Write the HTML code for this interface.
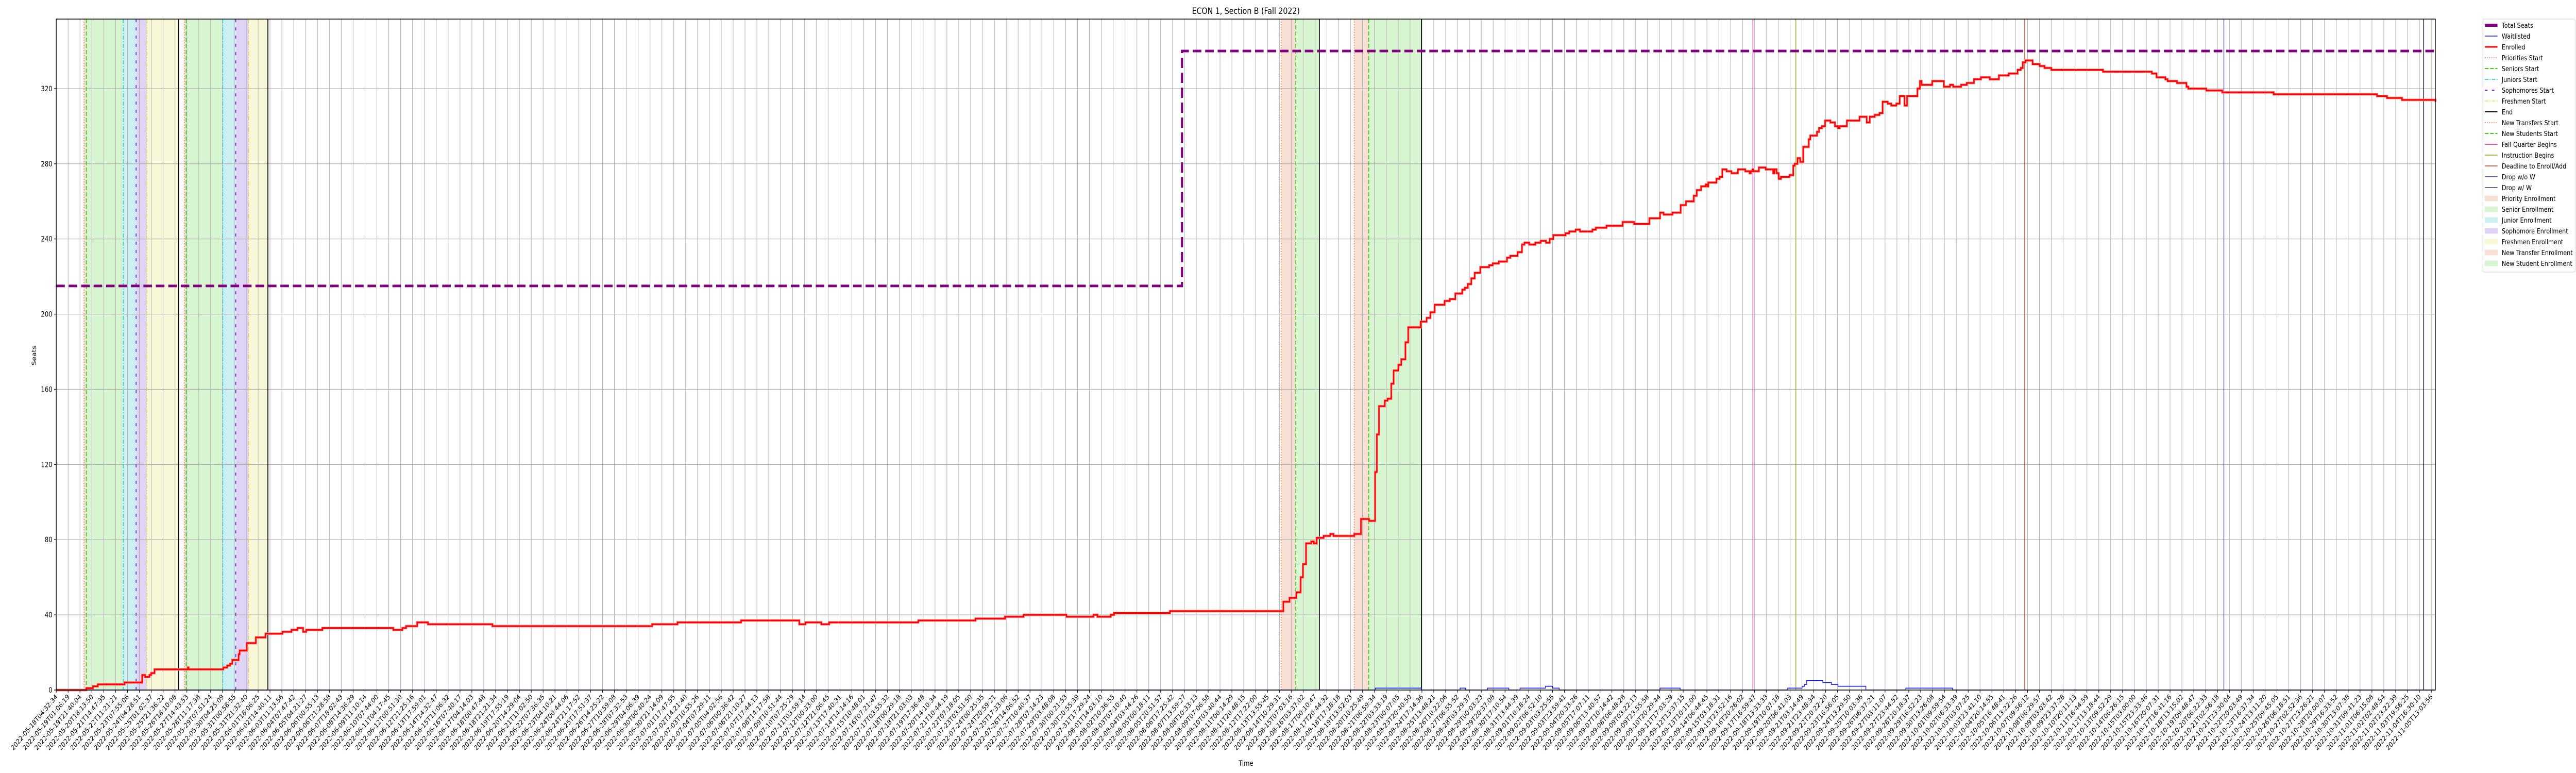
<!DOCTYPE html>
<html><head><meta charset="utf-8"><style>
html,body{margin:0;padding:0;background:#fff;overflow:hidden;width:100vw;height:100vh;}
svg{display:block;width:100vw;height:100vh;font-family:"DejaVu Sans","Liberation Sans",sans-serif;}
</style></head><body>
<svg id="chart" viewBox="0 0 6000 1500" preserveAspectRatio="none" xmlns="http://www.w3.org/2000/svg">
<rect x="0" y="0" width="6000" height="1500" fill="#fff"/>
<text x="2902" y="27" font-size="17" text-anchor="middle">ECON 1, Section B (Fall 2022)</text>
<g id="shades"></g><g id="grid"></g><g id="events"></g><g id="series"></g><g id="axes"></g><g id="legend"></g>
<text x="2902" y="1486" font-size="14" text-anchor="middle">Time</text>
<text x="0" y="0" font-size="14" text-anchor="middle" transform="translate(84,690) rotate(-90)">Seats</text>
</svg>
<script>
// ---- data (x in days since first tick) ----
const tickRange = ["2022-05-18T04:32:34", "2022-11-05T13:03:56"];
const tickCount = [201];
const yTicks = [0, 40, 80, 120, 160, 200, 240, 280, 320];
const seatsDays = [0, 81.22, 171.65];
const seatsVals = [215, 340, 340];
const enrolledDays = [0,2.0,2.17,2.65,3.0,4.93,6.2,6.41,6.72,6.85,7.09,9.49,9.55,12.01,12.05,12.33,12.54,12.7,12.89,13.16,13.23,13.75,14.4,15.1,16.32,16.97,17.4,17.81,18.03,19.2,24.32,24.97,25.24,26.04,26.82,31.47,36.18,42.99,44.82,49.41,53.49,53.61,54.05,55.2,55.76,62.2,66.32,68.45,69.79,72.88,74.84,75.12,76.08,76.32,80.35,88.37,88.53,88.98,89.47,89.58,89.78,89.95,90.17,90.54,90.6,90.73,90.94,91.44,91.5,91.92,92.15,93.65,93.79,94.13,94.72,95.03,95.15,95.28,95.43,95.85,96.05,96.32,96.49,96.83,97.04,97.34,97.54,98.44,98.63,98.87,99.14,99.45,100.17,100.54,100.94,101.44,101.63,101.84,102.09,102.34,102.74,103.38,103.64,104.08,104.67,104.91,105.43,105.56,105.75,105.93,106.27,106.71,107.1,107.48,107.75,108.0,108.9,109.16,109.62,109.93,110.83,111.08,111.85,112.37,113.01,113.84,114.18,114.94,115.07,115.71,115.97,116.61,116.87,117.2,117.58,117.76,118.14,118.36,118.67,119.01,119.12,119.19,119.78,120.0,120.2,120.51,120.86,120.98,121.33,121.86,122.17,122.26,122.38,122.45,122.84,122.91,123.34,123.87,123.96,124.12,124.27,124.43,125.05,125.16,125.32,125.42,125.63,125.82,125.94,126.04,126.44,126.55,127.03,127.18,127.39,127.62,128.0,128.1,128.33,128.55,128.67,129.19,129.41,130.1,130.34,130.62,130.84,131.2,131.54,131.77,132.14,132.39,132.76,133.0,133.35,133.53,134.28,134.46,134.58,135.35,135.43,136.19,136.63,136.86,137.43,137.56,137.84,138.36,138.86,139.5,139.65,140.16,140.87,141.51,141.74,141.88,142.08,142.59,143.1,143.45,143.94,147.67,147.81,151.19,151.31,151.53,152.17,152.33,153.01,153.69,153.82,155.12,156.27,159.98,167.44,168.16,169.24,171.65];
const enrolledVals = [0,0,1,2,3,4,8,7,8,9,11,12,11,11,12,13,14,16,16,19,21,25,28,30,31,32,33,31,32,33,32,33,34,36,35,34,34,35,36,37,37,35,36,35,36,37,38,39,40,39,40,39,40,41,42,42,47,49,52,52,60,67,78,79,79,78,81,82,82,83,82,83,83,91,90,90,116,136,151,154,155,163,170,173,176,185,193,196,196,198,201,205,207,208,211,213,214,216,219,222,225,226,227,228,230,231,233,233,237,238,237,238,239,238,240,242,243,244,245,244,245,246,247,247,249,248,248,251,251,254,253,254,254,258,260,260,263,266,268,269,268,270,272,273,277,276,275,275,277,276,275,276,277,276,278,278,277,275,277,275,272,273,274,274,279,280,283,281,281,289,293,295,297,299,300,303,302,302,300,299,300,303,303,305,305,302,305,306,307,313,312,311,312,316,311,316,320,324,322,324,324,321,322,321,322,322,323,325,326,325,325,327,328,330,331,334,335,333,332,331,330,329,329,328,328,326,325,324,323,321,320,319,318,317,316,315,314,313,313];
const waitDays = [0,95.16,98.5,101.28,101.68,103.26,104.8,105.61,107.45,107.96,108.43,115.71,117.16,124.92,125.96,126.13,126.29,126.53,127.46,128.07,128.55,130.56,133.44,136.81,171.65];
const waitVals = [0,1,0,1,0,1,0,1,2,1,0,1,0,1,2,3,5,5,4,3,2,0,1,0,0];
const eventNames = ["Priorities Start","Seniors Start","Juniors Start","Sophomores Start","Freshmen Start","End","Priorities Start","Seniors Start","Juniors Start","Sophomores Start","Freshmen Start","End","New Transfers Start","New Students Start","End","New Transfers Start","New Students Start","End","Fall Quarter Begins","Instruction Begins","Deadline to Enroll/Add","Drop w/o W","Drop w/ W"];
const eventDays = [2.0,2.17,4.83,5.76,6.54,8.83,9.23,9.37,12.02,12.95,13.88,15.27,88.37,89.43,91.13,93.64,94.69,98.5,122.41,125.51,142.02,156.39,170.8];
const shadeNames = ["Priority Enrollment","Senior Enrollment","Junior Enrollment","Sophomore Enrollment","Freshmen Enrollment","Priority Enrollment","Senior Enrollment","Junior Enrollment","Sophomore Enrollment","Freshmen Enrollment","New Transfer Enrollment","New Student Enrollment","New Transfer Enrollment","New Student Enrollment"];
const shadeStart = [2.0,2.17,4.83,5.76,6.54,9.23,9.37,12.02,12.95,13.88,88.37,89.43,93.64,94.69];
const shadeEnd = [2.17,4.83,5.76,6.54,8.83,9.37,12.02,12.95,13.88,15.27,89.43,91.13,94.69,98.5];

// ---- styles ----
const L=131,R=5672.5,T=37,B=1339,XMAX=171.65,YMAX=357,TICKSPAN=171.355;
const xs=d=>L+d/XMAX*(R-L);
const ys=v=>B-v/YMAX*(B-T);
const NS="http://www.w3.org/2000/svg";
function mk(tag,attrs,parent){const e=document.createElementNS(NS,tag);for(const k in attrs)e.setAttribute(k,attrs[k]);parent.appendChild(e);return e;}
const evStyle={"Priorities Start":["#f06a3a","2,3",1.5],"Seniors Start":["#3ccf1a","8,4",2],"Juniors Start":["#00cbd6","8,3,2,3",1.5],"Sophomores Start":["#6a2ad8","6,10",2],"Freshmen Start":["#e0e030","8,3,2,3,2,3",1.5],"End":["#000","",2],"New Transfers Start":["#f06a3a","2,3",1.5],"New Students Start":["#3ccf1a","8,4",2],"Fall Quarter Begins":["#dd1199","",1.5],"Instruction Begins":["#88aa00","",1.5],"Deadline to Enroll/Add":["#cc3311","",1.5],"Drop w/o W":["#2a2a8a","",1.5],"Drop w/ W":["#334466","",2]};
const shStyle={"Priority Enrollment":"#f8dfd4","Senior Enrollment":"#d8f5d2","Junior Enrollment":"#cdf1f3","Sophomore Enrollment":"#e0d3f5","Freshmen Enrollment":"#f8f8d8","New Transfer Enrollment":"#f8dfd4","New Student Enrollment":"#d8f5d2"};

const gS=document.getElementById('shades'),gG=document.getElementById('grid'),gE=document.getElementById('events'),gSe=document.getElementById('series'),gA=document.getElementById('axes'),gL=document.getElementById('legend');
for(let i=0;i<shadeStart.length;i++){
  const r=mk('rect',{x:xs(shadeStart[i]),y:T,width:xs(shadeEnd[i])-xs(shadeStart[i]),height:B-T,fill:shStyle[shadeNames[i]]},gS);
  
  
}
const t0=Date.parse(tickRange[0]+"Z"),t1=Date.parse(tickRange[1]+"Z");
const n=tickCount[0];
function fmt(ms){return new Date(ms).toISOString().slice(0,19);}
for(let i=0;i<n;i++){
  const d=i/(n-1)*TICKSPAN, x=xs(d);
  const gl=mk('line',{x1:x,x2:x,y1:T,y2:B,stroke:"#b0b0b0","stroke-width":1.2},gG);
  
  
  const tk=mk('line',{x1:x,x2:x,y1:B,y2:B+5,stroke:"#000","stroke-width":1.2},gA);
  
  
  const tx=mk('text',{x:0,y:0,"font-size":13.5,"text-anchor":"end",transform:`translate(${x+4},${B+14}) rotate(-45)`},gA);
  tx.textContent=fmt(t0+(t1-t0)*i/(n-1));
  
  
}
yTicks.forEach(v=>{
  const y=ys(v);
  const gl=mk('line',{x1:L,x2:R,y1:y,y2:y,stroke:"#b0b0b0","stroke-width":1.2},gG);
  
  
  const tk=mk('line',{x1:L-5,x2:L,y1:y,y2:y,stroke:"#000","stroke-width":1.2},gA);
  
  
  const tx=mk('text',{x:L-9,y:y+5,"font-size":14,"text-anchor":"end"},gA);
  tx.textContent=v;
  
  
});
for(let i=0;i<eventDays.length;i++){
  const s=evStyle[eventNames[i]],x=xs(eventDays[i]);
  const l=mk('line',{x1:x,x2:x,y1:T,y2:B,stroke:s[0],"stroke-width":s[2],"stroke-dasharray":s[1]},gE);
  
  
}
function stepPath(ds,vs){let p=`M${xs(ds[0])},${ys(vs[0])}`;for(let i=1;i<ds.length;i++){p+=`L${xs(ds[i])},${ys(vs[i-1])}L${xs(ds[i])},${ys(vs[i])}`;}return p;}
const sp=mk('path',{d:stepPath(seatsDays,seatsVals),fill:"none",stroke:"#800080","stroke-width":5,"stroke-dasharray":"20,9"},gSe);


const wp=mk('path',{d:stepPath(waitDays,waitVals),fill:"none",stroke:"#1515ff","stroke-width":1.6},gSe);


const ep0=mk('path',{d:stepPath(enrolledDays,enrolledVals),fill:"none",stroke:"#ff9090","stroke-width":5},gSe);


const ep=mk('path',{d:stepPath(enrolledDays,enrolledVals),fill:"none",stroke:"#ff0000","stroke-width":3},gSe);


const fr=mk('rect',{x:L,y:T,width:R-L,height:B-T,fill:"none",stroke:"#000","stroke-width":1.5},gA);


const legItems=[["Total Seats","line","#800080","",6],["Waitlisted","line","#1515ff","",1.5],["Enrolled","line","#ff0000","",3],["Priorities Start","line","#f06a3a","2,3",1.5],["Seniors Start","line","#3ccf1a","8,4",2],["Juniors Start","line","#00cbd6","8,3,2,3",1.5],["Sophomores Start","line","#6a2ad8","6,10",2],["Freshmen Start","line","#e0e030","8,3,2,3",1.5],["End","line","#000","",2],["New Transfers Start","line","#f06a3a","2,3",1.5],["New Students Start","line","#3ccf1a","8,4",2],["Fall Quarter Begins","line","#dd1199","",1.5],["Instruction Begins","line","#88aa00","",1.5],["Deadline to Enroll/Add","line","#cc3311","",1.5],["Drop w/o W","line","#2a2a8a","",1.5],["Drop w/ W","line","#334466","",1.5],["Priority Enrollment","box","#f8dfd4"],["Senior Enrollment","box","#d8f5d2"],["Junior Enrollment","box","#cdf1f3"],["Sophomore Enrollment","box","#e0d3f5"],["Freshmen Enrollment","box","#f8f8d8"],["New Transfer Enrollment","box","#f8dfd4"],["New Student Enrollment","box","#d8f5d2"]];
const lb=mk('rect',{x:5783,y:37,width:215,height:legItems.length*21+8,fill:"#fff",stroke:"#d0d0d0","stroke-width":1,rx:3},gL);


legItems.forEach((it,i)=>{
  const y=49+i*21;
  const g=mk('g',{},gL);
  
  
  if(it[1]=="line"){mk('line',{x1:5788,x2:5817,y1:y,y2:y,stroke:it[2],"stroke-width":it[4],"stroke-dasharray":it[3]},g);}
  else{mk('rect',{x:5788,y:y-5,width:29,height:10,fill:it[2],stroke:it[2]},g);}
  const t=mk('text',{x:5827,y:y+5,"font-size":13.5},g);
  t.textContent=it[0];
});
</script>
</body></html>
